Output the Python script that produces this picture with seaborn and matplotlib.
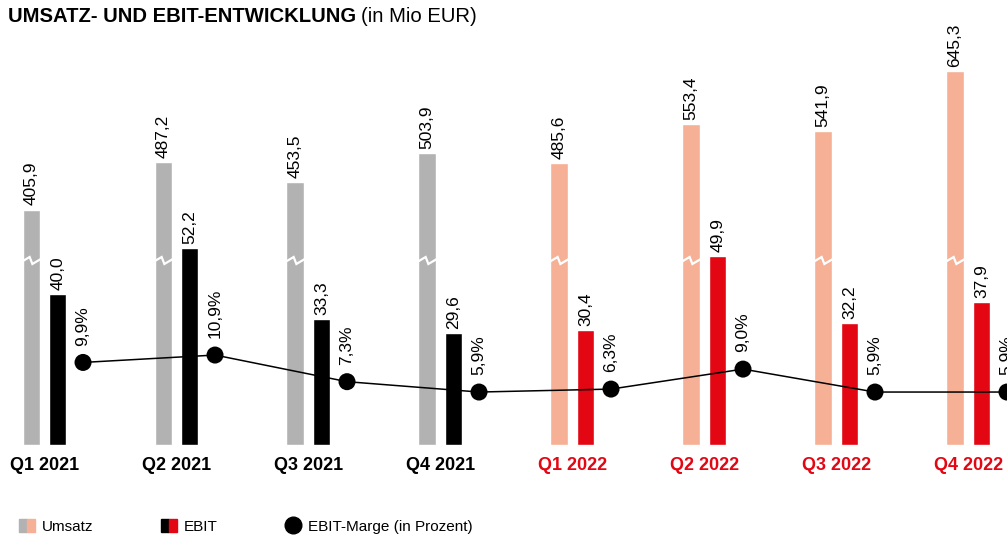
import numpy as np
import matplotlib
matplotlib.use('Agg')
import matplotlib.pyplot as plt
import seaborn as sns
from matplotlib.patches import Patch
from matplotlib.lines import Line2D
from matplotlib.legend_handler import HandlerTuple

#%% data
quarters = ['Q1 2021', 'Q2 2021', 'Q3 2021', 'Q4 2021',
            'Q1 2022', 'Q2 2022', 'Q3 2022', 'Q4 2022']
umsatz = [405.9, 487.2, 453.5, 503.9, 485.6, 553.4, 541.9, 645.3]
ebit = [40.0, 52.2, 33.3, 29.6, 30.4, 49.9, 32.2, 37.9]
marge = [9.9, 10.9, 7.3, 5.9, 6.3, 9.0, 5.9, 5.9]
years = ['2021', '2021', '2021', '2021', '2022', '2022', '2022', '2022']

#%% style
sns.set_style('white')
plt.rcParams['font.family'] = ['Liberation Sans', 'DejaVu Sans']
plt.rcParams['text.color'] = 'black'

grey, salmon = '#b2b2b2', '#f5b096'
black, red = '#000000', '#e30613'
umsatzCol = [grey if y == '2021' else salmon for y in years]
ebitCol = [black if y == '2021' else red for y in years]
tickCol = [black if y == '2021' else red for y in years]

fig = plt.figure(figsize=(10.07, 5.38), dpi=100)
axE = fig.add_axes([0, 93/538, 1, 425/538])
axU = axE.twinx()
axM = axE.twinx()

x = np.arange(len(quarters))
w = 0.129
off = 0.102
dotOff = 0.292
uScale = 0.58   # px per Mio EUR Umsatz (broken axis)
eScale = 3.78   # px per Mio EUR EBIT

# EBIT bars
axE.bar(x + off, ebit, width=w, color=ebitCol, zorder=2)
axE.set_ylim(0, 425/eScale)
# Umsatz bars (own scale, axis broken)
axU.bar(x - off, umsatz, width=w, color=umsatzCol, zorder=2)
axU.set_ylim(0, 425/uScale)
# EBIT-Marge
sns.lineplot(x=x + dotOff, y=marge, ax=axM, color='black', lw=1.1, zorder=3)
sns.scatterplot(x=x + dotOff, y=marge, ax=axM, color='black', s=150,
                edgecolor='none', zorder=4)
axM.set_ylim(-9.3/7.4, -9.3/7.4 + 425/7.4)

for ax in (axE, axU, axM):
    ax.set_xlim(-0.337, 7.292)
    ax.set_yticks([])
    ax.set_ylabel('')
    for s in ax.spines.values():
        s.set_visible(False)
    ax.patch.set_visible(False)

# axis break marks on the Umsatz bars
brk = 184/uScale
px = 1/uScale
for xi in x:
    xl = xi - off - w/2
    xs = [xl - 0.01, xl + w*0.42, xl + w*0.58, xl + w + 0.01]
    ys = [brk - 1*px, brk + 4*px, brk - 3*px, brk + 2*px]
    axU.plot(xs, ys, color='white', lw=1.6, zorder=3, solid_joinstyle='miter')

# value labels
def de(v, suffix=''):
    return f'{v:.1f}'.replace('.', ',') + suffix

for xi, v in zip(x, umsatz):
    axU.annotate(de(v), (xi - off, v), xytext=(0, 3), textcoords='offset points',
                 rotation=90, ha='center', va='bottom', fontsize=12.5)
for xi, v in zip(x, ebit):
    axE.annotate(de(v), (xi + off, v), xytext=(0, 3), textcoords='offset points',
                 rotation=90, ha='center', va='bottom', fontsize=12.5)
for xi, v in zip(x, marge):
    axM.annotate(de(v, '%'), (xi + dotOff, v), xytext=(0, 12), textcoords='offset points',
                 rotation=90, ha='center', va='bottom', fontsize=12.5)

# quarter labels
axE.set_xticks(x)
axE.set_xticklabels(quarters, fontsize=13, fontweight='bold')
for lab, c in zip(axE.get_xticklabels(), tickCol):
    lab.set_color(c)
axE.tick_params(axis='x', length=0, pad=9)
axE.set_xlabel('')

# title
t1 = fig.text(8/1007, 1 - 16/538, 'UMSATZ- UND EBIT-ENTWICKLUNG', fontsize=14.6,
              fontweight='bold', va='center', ha='left')
fig.canvas.draw()
bb = t1.get_window_extent()
fig.text((bb.x1 + 5)/1007, 1 - 16/538, '(in Mio EUR)', fontsize=14.6,
         va='center', ha='left')

# legend
handles = [(Patch(color=grey), Patch(color=salmon)),
           (Patch(color=black), Patch(color=red)),
           Line2D([], [], marker='o', ls='none', color='black', markersize=12)]
fig.legend(handles, ['Umsatz', 'EBIT', 'EBIT-Marge (in Prozent)'],
           handler_map={tuple: HandlerTuple(ndivide=None, pad=0)},
           loc='lower left', bbox_to_anchor=(19/1007, 4/538), ncol=3,
           frameon=False, fontsize=11, handlelength=1.05, handleheight=0.95,
           handletextpad=0.45, columnspacing=4.4, borderpad=0, borderaxespad=0)

fig.savefig('out.png', dpi=100)
